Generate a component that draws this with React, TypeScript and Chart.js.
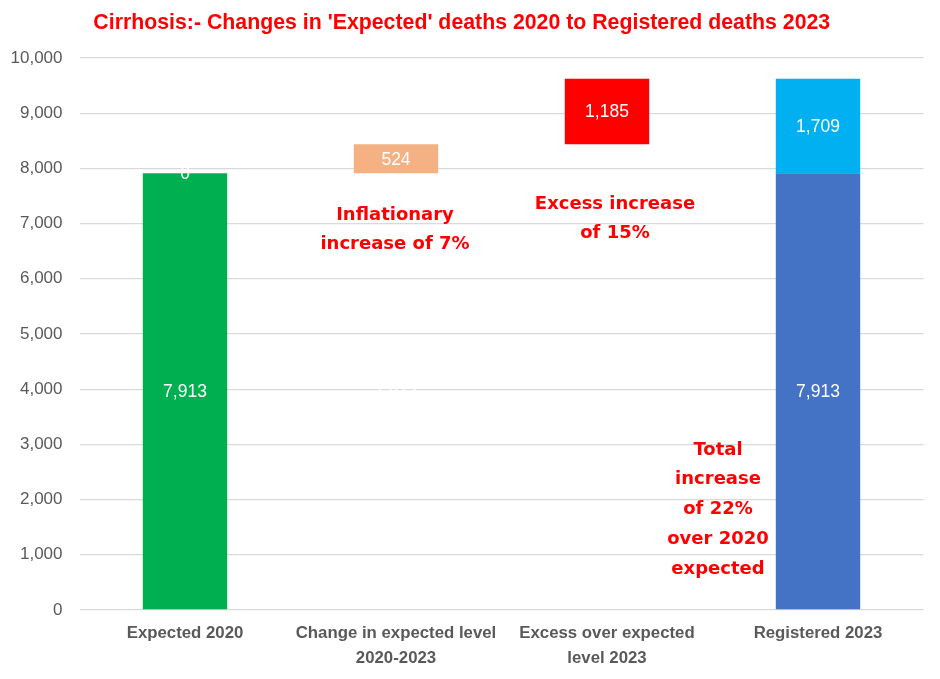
import React, { useEffect, useRef } from "react";
import { Chart, registerables } from "chart.js";

Chart.register(...registerables);

const categories: (string | string[])[] = [
  "Expected 2020",
  ["Change in expected level", "2020-2023"],
  ["Excess over expected", "level 2023"],
  "Registered 2023",
];
const baseValues = [7913, 7913, 8437, 7913];
const baseColors = ["#00B050", "rgba(0,0,0,0)", "rgba(0,0,0,0)", "#4472C4"];
const changeValues = [0, 524, 1185, 1709];
const changeColors = ["#00B050", "#F4B183", "#FF0000", "#00B0F0"];
const yTicks = [0, 1000, 2000, 3000, 4000, 5000, 6000, 7000, 8000, 9000, 10000];
const titleText = "Cirrhosis:- Changes in 'Expected' deaths 2020 to Registered deaths 2023";

const noteLines = [
  ["Inflationary", "increase of 7%"],
  ["Excess increase", "of 15%"],
  ["Total", "increase", "of 22%", "over 2020", "expected"],
];
const noteCategory = [1, 2, 3];
const noteOffsetX = [-1, 8, -100];
const noteTopValue = [7156, 7355, 2899];

const fmt = (v: number) => v.toLocaleString("en-US");

const labelPlugin = {
  id: "valueLabels",
  afterDatasetsDraw(chart: any) {
    const ctx = chart.ctx;
    ctx.save();
    ctx.fillStyle = "#FFFFFF";
    ctx.font = "17.5px 'Liberation Sans', Arial, sans-serif";
    ctx.textAlign = "center";
    ctx.textBaseline = "middle";
    chart.data.datasets.forEach((ds: any, di: number) => {
      const meta = chart.getDatasetMeta(di);
      meta.data.forEach((el: any, i: number) => {
        const v = ds.data[i];
        if (v === null || v === undefined) return;
        const y = (el.y + el.base) / 2;
        ctx.fillText(fmt(v), el.x, y + 1);
      });
    });
    ctx.restore();
  },
};

const notePlugin = {
  id: "notes",
  afterDraw(chart: any) {
    const ctx = chart.ctx;
    const xs = chart.scales.x;
    const ys = chart.scales.y;
    ctx.save();
    ctx.fillStyle = "#FF0000";
    ctx.font = "bold 18px 'DejaVu Sans', sans-serif";
    ctx.textAlign = "center";
    ctx.textBaseline = "middle";
    noteLines.forEach((lines, k) => {
      const x = xs.getPixelForValue(noteCategory[k]) + noteOffsetX[k];
      const y0 = ys.getPixelForValue(noteTopValue[k]);
      lines.forEach((t, j) => ctx.fillText(t, x, y0 + j * 29.8));
    });
    ctx.restore();
  },
};

export default function App() {
  const ref = useRef<HTMLCanvasElement>(null);
  useEffect(() => {
    document.body.style.margin = "0";
    const chart = new Chart(ref.current!, {
      type: "bar",
      data: {
        labels: categories,
        datasets: [
          {
            label: "Base",
            data: baseValues,
            backgroundColor: baseColors,
            barPercentage: 0.4,
            categoryPercentage: 1,
          },
          {
            label: "Change",
            data: changeValues,
            backgroundColor: changeColors,
            barPercentage: 0.4,
            categoryPercentage: 1,
          },
        ],
      },
      options: {
        animation: false,
        responsive: true,
        maintainAspectRatio: false,
        layout: { padding: { left: 0, right: 16.5, top: 0, bottom: 0 } },
        plugins: {
          legend: { display: false },
          tooltip: { enabled: false },
          title: {
            display: true,
            text: titleText,
            color: "#FF0000",
            font: { family: "'Liberation Sans', Arial, sans-serif", size: 21.3, weight: "bold", lineHeight: 1.2 },
            padding: { top: 10, bottom: 22.4 },
          },
        },
        scales: {
          x: {
            stacked: true,
            grid: { display: false, drawTicks: false },
            border: { display: false },
            ticks: {
              color: "#595959",
              padding: 11,
              maxRotation: 0,
              autoSkip: false,
              font: { family: "'Liberation Sans', Arial, sans-serif", size: 16.8, weight: "bold", lineHeight: 1.48 },
            },
            afterFit: (s: any) => {
              s.height = 69;
            },
          },
          y: {
            stacked: true,
            min: 0,
            max: 10000,
            afterBuildTicks: (s: any) => {
              s.ticks = yTicks.map((v) => ({ value: v }));
            },
            grid: { color: "#D9D9D9", lineWidth: 1.3, drawTicks: false },
            border: { display: false },
            ticks: {
              color: "#595959",
              padding: 17,
              font: { family: "'Liberation Sans', Arial, sans-serif", size: 17 },
              callback: (v: any) => fmt(Number(v)),
            },
            afterFit: (s: any) => {
              s.width = 79.5;
            },
          },
        },
      },
      plugins: [labelPlugin, notePlugin],
    });
    return () => chart.destroy();
  }, []);
  return (
    <div style={{ position: "absolute", left: 0, top: 0, width: 940, height: 679, background: "#fff" }}>
      <canvas ref={ref} />
    </div>
  );
}
